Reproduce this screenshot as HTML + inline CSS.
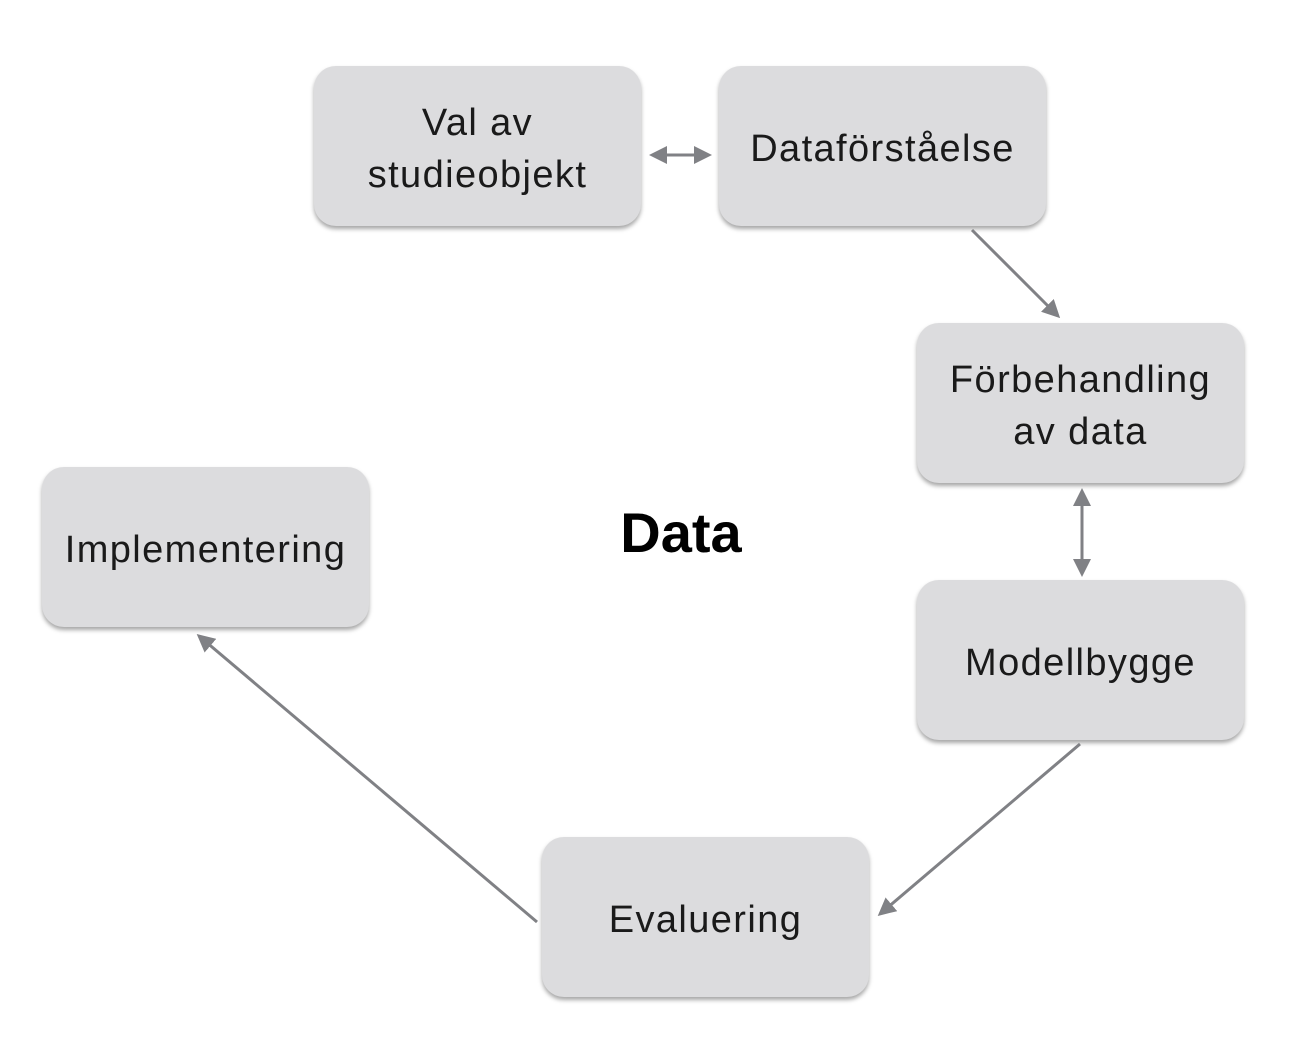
<!DOCTYPE html>
<html><head><meta charset="utf-8"><style>
body{margin:0;width:1300px;height:1052px;background:#fff;position:relative;overflow:hidden;font-family:"Liberation Sans",sans-serif}
.b{position:absolute;width:327px;height:160px;background:#dcdcde;border-radius:22px;box-shadow:0 3px 4px rgba(0,0,0,0.35);display:flex;align-items:center;justify-content:center;text-align:center;font-size:38px;letter-spacing:1.4px;line-height:52px;color:#1a1a1a;box-sizing:border-box;padding-top:5px}
svg{position:absolute;left:0;top:0}
</style></head><body>
<div class="b" style="left:314px;top:66px">Val av<br>studieobjekt</div>
<div class="b" style="left:719px;top:66px">Dataförståelse</div>
<div class="b" style="left:917px;top:323px">Förbehandling<br>av data</div>
<div class="b" style="left:917px;top:580px">Modellbygge</div>
<div class="b" style="left:542px;top:837px">Evaluering</div>
<div class="b" style="left:42px;top:467px">Implementering</div>
<div style="position:absolute;left:571px;top:500px;width:220px;text-align:center;font-weight:bold;font-size:56px;color:#000">Data</div>
<svg width="1300" height="1052">
<defs><marker id="a" markerWidth="6" markerHeight="6" refX="5" refY="3" orient="auto-start-reverse" markerUnits="strokeWidth"><path d="M0,0L6,3L0,6z" fill="#808185"/></marker></defs>
<g stroke="#808185" stroke-width="3" fill="none">
<line x1="652" y1="155" x2="709" y2="155" marker-start="url(#a)" marker-end="url(#a)"/>
<line x1="972" y1="230" x2="1058" y2="316" marker-end="url(#a)"/>
<line x1="1082" y1="491" x2="1082" y2="574" marker-start="url(#a)" marker-end="url(#a)"/>
<line x1="1080" y1="744" x2="880" y2="914" marker-end="url(#a)"/>
<line x1="537" y1="922" x2="199" y2="636" marker-end="url(#a)"/>
</g></svg>
</body></html>
